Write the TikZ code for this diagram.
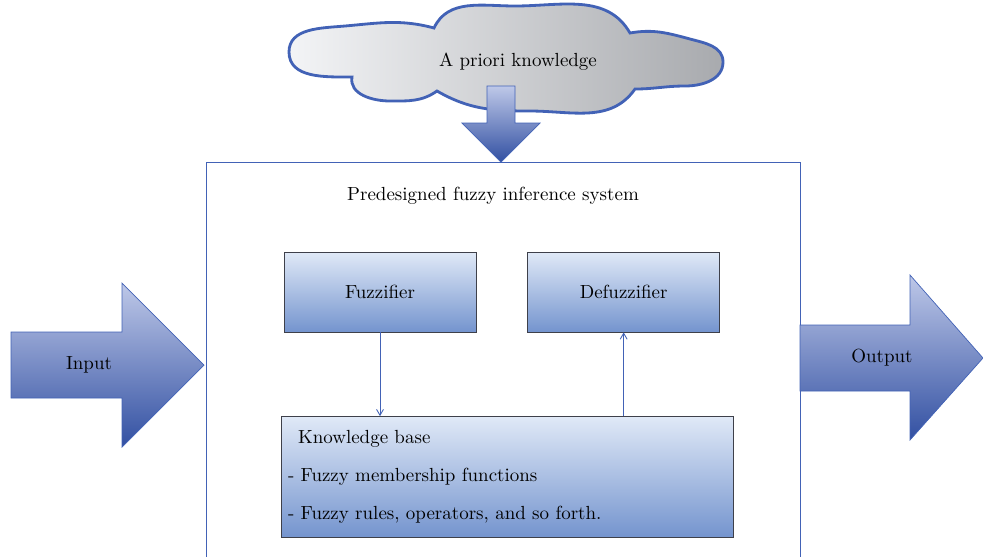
\documentclass[tikz,border=0pt]{standalone}
\usepackage{tikz}
\usetikzlibrary{shapes,arrows,positioning}

\definecolor{boxtop}{RGB}{224,233,247}
\definecolor{boxbot}{RGB}{116,148,206}
\definecolor{boxline}{RGB}{62,64,74}
\definecolor{lineblue}{RGB}{66,98,182}
\definecolor{arrtop}{RGB}{190,200,232}
\definecolor{arrbot}{RGB}{50,80,162}
\definecolor{cloudleft}{RGB}{243,244,246}
\definecolor{cloudright}{RGB}{168,170,174}

\begin{document}
\begin{tikzpicture}[x=0.02cm, y=-0.02cm, font=\fontsize{10.8}{12}\selectfont]

\tikzstyle{block} = [rectangle, minimum width=3.84cm, minimum height=1.6cm, text centered, draw=boxline, top color=boxtop, bottom color=boxbot]
\tikzstyle{bigarrow} = [draw=lineblue, top color=arrtop, bottom color=arrbot]
\tikzstyle{link} = [lineblue, line width=0.5pt, ->, >=angle 60]

\useasboundingbox (0,0) rectangle (983,556);

% outer frame, open at the bottom
\draw [lineblue] (206,560) |- (800,162) -- (800,560);
\node (title) at (493,196) {Predesigned fuzzy inference system};

% cloud with prior knowledge
\draw [draw=lineblue, line width=1.6pt, left color=cloudleft, right color=cloudright]
  (352,77) to[out=180,in=270] (289,52) to[out=90,in=185] (345,26) to[out=5,in=165] (434,28)
  to[out=65,in=180] (515,6) to[out=0,in=120] (630,33)
  to[out=10,in=165] (690,39) to[out=-15,in=90] (723,62) to[out=270,in=0] (685,86) to[out=180,in=0] (635,89)
  to[out=235,in=0] (530,111) to[out=180,in=330] (437,91)
  to[out=215,in=0] (390,101) to[out=180,in=260] cycle;
\node (prior) at (518,62) {A priori knowledge};
\draw [bigarrow] (487,86) -- (515,86) -- (515,123) -- (540,123) -- (501,162) -- (462,123) -- (487,123) -- cycle;

% input and output arrows
\draw [bigarrow] (11,332) -- (122,332) -- (122,283) -- (204,365) -- (122,447) -- (122,398) -- (11,398) -- cycle;
\node (input) at (89,365) {Input};
\draw [bigarrow] (800,325) -- (910,325) -- (910,275) -- (983,358) -- (910,440) -- (910,391) -- (800,391) -- cycle;
\node (output) at (882,358) {Output};

% inner blocks
\node (fuzz) [block] at (380,292) {Fuzzifier};
\node (defuzz) [block, right=1.02cm of fuzz] {Defuzzifier};
\node (kb) [block, minimum width=9.04cm, minimum height=2.42cm, text width=8.76cm, align=left, font=\fontsize{10.8}{21.5}\selectfont] at (507,477) {\hspace{0.2cm}Knowledge base\\- Fuzzy membership functions\\- Fuzzy rules, operators, and so forth.};

\draw [link] (fuzz) -- (fuzz |- kb.north);
\draw [link] (kb.north -| defuzz) -- (defuzz);

\end{tikzpicture}
\end{document}
